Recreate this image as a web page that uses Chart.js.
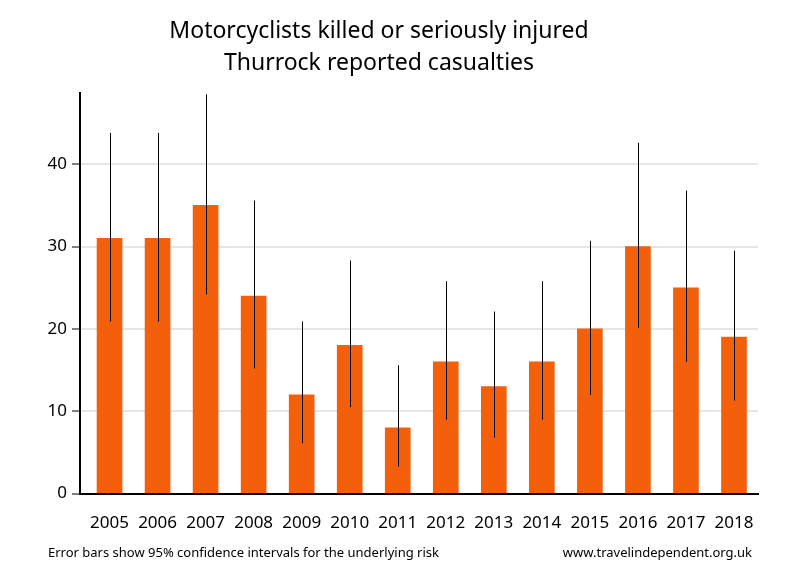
<!DOCTYPE html>
<html>
<head>
<meta charset="utf-8">
<script src="https://cdn.jsdelivr.net/npm/chart.js@4"></script>
<style>
  body { margin: 0; background: #fff; }
  #wrap { width: 800px; height: 580px; }
</style>
</head>
<body>
<div id="wrap"><canvas id="chart"></canvas></div>
<script>
// data
const years = [2005, 2006, 2007, 2008, 2009, 2010, 2011, 2012, 2013, 2014, 2015, 2016, 2017, 2018];
const casualties = [31, 31, 35, 24, 12, 18, 8, 16, 13, 16, 20, 30, 25, 19];
const ciLow = [20.9, 20.9, 24.2, 15.2, 6.1, 10.5, 3.3, 9.0, 6.8, 9.0, 12.0, 20.1, 16.0, 11.3];
const ciHigh = [43.8, 43.8, 48.5, 35.6, 20.9, 28.3, 15.6, 25.8, 22.1, 25.8, 30.7, 42.6, 36.8, 29.5];
const yTicks = [0, 10, 20, 30, 40];

const FONT = "'Noto Sans', 'Open Sans', sans-serif";

// thin black error bars, no caps
const errorBars = {
  id: 'errorBars',
  afterDatasetsDraw(chart) {
    const ctx = chart.ctx;
    const x = chart.scales.x, y = chart.scales.y;
    ctx.save();
    ctx.strokeStyle = '#000';
    ctx.lineWidth = 1;
    years.forEach((yr, i) => {
      const px = Math.round(x.getPixelForValue(yr)) + 0.5;
      ctx.beginPath();
      ctx.moveTo(px, y.getPixelForValue(ciLow[i]));
      ctx.lineTo(px, y.getPixelForValue(ciHigh[i]));
      ctx.stroke();
    });
    ctx.restore();
  }
};

// footnote line under the chart
const footer = {
  id: 'footer',
  afterDraw(chart) {
    const ctx = chart.ctx;
    ctx.save();
    ctx.fillStyle = '#000';
    ctx.font = '13px ' + FONT;
    ctx.textBaseline = 'middle';
    ctx.textAlign = 'left';
    ctx.fillText('Error bars show 95% confidence intervals for the underlying risk', 48, 553);
    ctx.textAlign = 'right';
    ctx.fillText('www.travelindependent.org.uk', 752, 553);
    ctx.restore();
  }
};

new Chart(document.getElementById('chart'), {
  type: 'bar',
  data: {
    datasets: [{
      data: years.map((yr, i) => ({ x: yr, y: casualties[i] })),
      backgroundColor: '#f45f0c',
      borderWidth: 0,
      barThickness: 25
    }]
  },
  options: {
    responsive: true,
    maintainAspectRatio: false,
    animation: false,
    layout: { padding: { left: 0, right: 42, bottom: 28 } },
    plugins: {
      legend: { display: false },
      tooltip: { enabled: false },
      title: {
        display: true,
        text: ['Motorcyclists killed or seriously injured', 'Thurrock reported casualties'],
        color: '#000',
        font: { family: FONT, size: 23, weight: 'normal', lineHeight: 1.4 },
        padding: { top: 15, bottom: 14 }
      }
    },
    scales: {
      x: {
        type: 'linear',
        offset: false,
        min: years[0] - 0.615,
        max: years[years.length - 1] + 0.5,
        afterBuildTicks: s => { s.ticks = years.map(v => ({ value: v })); },
        grid: { display: false, drawTicks: false },
        border: { display: true, color: '#000', width: 2 },
        ticks: {
          autoSkip: false,
          maxRotation: 0,
          padding: 19,
          color: '#000',
          font: { family: FONT, size: 17 },
          callback: v => String(v)
        }
      },
      y: {
        min: 0,
        max: 48.6,
        afterBuildTicks: s => { s.ticks = yTicks.map(v => ({ value: v })); },
        afterFit: s => { s.width = 80; },
        grid: {
          color: c => (c.tick && c.tick.value === 0) ? 'rgba(0,0,0,0)' : '#e6e6e6',
          lineWidth: 2,
          tickColor: '#000',
          tickLength: 8,
          tickWidth: 1
        },
        border: { display: true, color: '#000', width: 2 },
        ticks: {
          padding: 5,
          color: '#000',
          font: { family: FONT, size: 17 }
        }
      }
    }
  },
  plugins: [errorBars, footer]
});
</script>
</body>
</html>
